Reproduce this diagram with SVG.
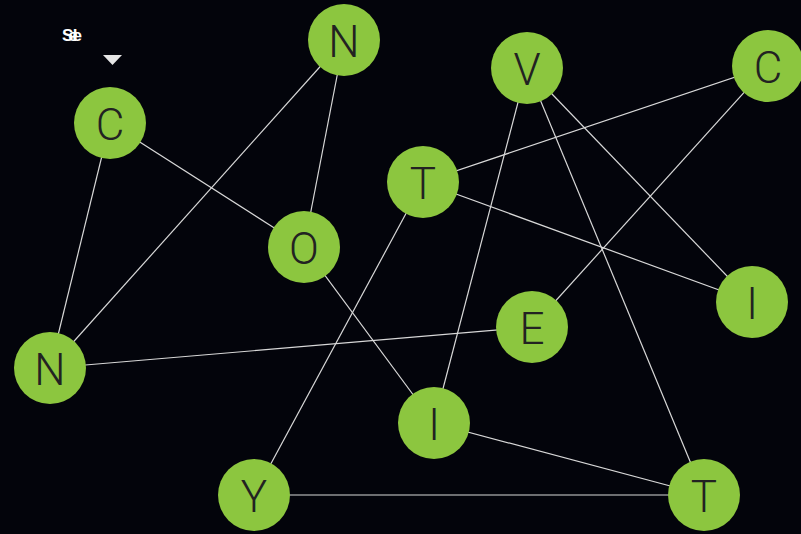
<svg xmlns="http://www.w3.org/2000/svg" width="801" height="534" viewBox="0 0 801 534">
<style>
.n circle{fill:#8cc63f;}
.n text{font-family:Roboto,"Liberation Sans",sans-serif;font-weight:300;font-size:44px;fill:#222;text-anchor:middle;dominant-baseline:central;}
.e line{stroke:#d8d8d8;stroke-width:1.2;}
</style>
<rect width="801" height="534" fill="#03040b"/>
<text x="62" y="41" font-family="'Liberation Sans',sans-serif" font-weight="bold" font-size="17" fill="#fff" letter-spacing="-5">Sele</text>
<polygon points="103,55 122,55 112.5,65" fill="#e6e6e6"/>
<g class="e" id="edges">
<line x1="110" y1="123" x2="304" y2="247"/>
<line x1="110" y1="123" x2="50" y2="368"/>
<line x1="344" y1="40" x2="50" y2="368"/>
<line x1="344" y1="40" x2="304" y2="247"/>
<line x1="304" y1="247" x2="434" y2="423"/>
<line x1="423" y1="182" x2="768" y2="66"/>
<line x1="423" y1="182" x2="752" y2="302"/>
<line x1="423" y1="182" x2="254" y2="495"/>
<line x1="527" y1="68" x2="434" y2="423"/>
<line x1="527" y1="68" x2="704" y2="495"/>
<line x1="527" y1="68" x2="752" y2="302"/>
<line x1="768" y1="66" x2="532" y2="327"/>
<line x1="532" y1="327" x2="50" y2="368"/>
<line x1="434" y1="423" x2="704" y2="495"/>
<line x1="254" y1="495" x2="704" y2="495"/>
</g>
<g class="n" id="n-C1"><circle cx="110" cy="123" r="36"/><text x="110" y="125">C</text></g>
<g class="n" id="n-N1"><circle cx="344" cy="40" r="36"/><text x="344" y="42">N</text></g>
<g class="n" id="n-V"><circle cx="527" cy="68" r="36"/><text x="527" y="70">V</text></g>
<g class="n" id="n-C2"><circle cx="768" cy="66" r="36"/><text x="768" y="68">C</text></g>
<g class="n" id="n-T1"><circle cx="423" cy="182" r="36"/><text x="423" y="184">T</text></g>
<g class="n" id="n-O"><circle cx="304" cy="247" r="36"/><text x="304" y="249">O</text></g>
<g class="n" id="n-I1"><circle cx="752" cy="302" r="36"/><text x="752" y="304">I</text></g>
<g class="n" id="n-E"><circle cx="532" cy="327" r="36"/><text x="532" y="329">E</text></g>
<g class="n" id="n-N2"><circle cx="50" cy="368" r="36"/><text x="50" y="370">N</text></g>
<g class="n" id="n-I2"><circle cx="434" cy="423" r="36"/><text x="434" y="425">I</text></g>
<g class="n" id="n-Y"><circle cx="254" cy="495" r="36"/><text x="254" y="497">Y</text></g>
<g class="n" id="n-T2"><circle cx="704" cy="495" r="36"/><text x="704" y="497">T</text></g>
</svg>
